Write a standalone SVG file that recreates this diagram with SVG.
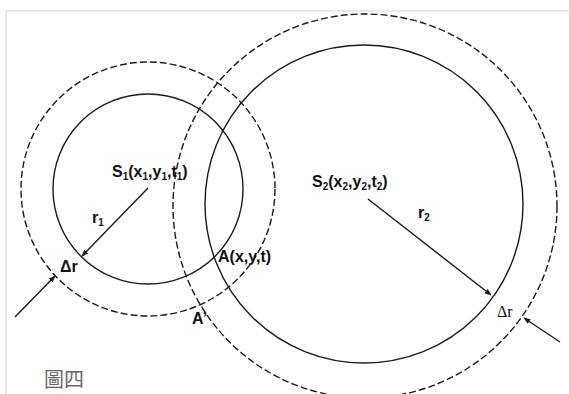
<svg xmlns="http://www.w3.org/2000/svg" width="569" height="394" viewBox="0 0 569 394">
<style>
.bg{fill:#ffffff}
.frame{fill:none;stroke:#e4e4e4;stroke-width:1.5}
.solid{fill:none;stroke:#1a1a1a;stroke-width:1.4}
.dash{fill:none;stroke:#1a1a1a;stroke-width:1.4;stroke-dasharray:7 3}
.ln{fill:none;stroke:#1a1a1a;stroke-width:1.4}
.lbl{font-family:"Liberation Sans",Arial,sans-serif;font-weight:bold;font-size:16px;fill:#111}
.sub{font-size:10px}
.ser{font-family:"Liberation Serif","Times New Roman",serif;font-size:16px;fill:#111}
.cap{font-family:"Noto Sans CJK TC","Noto Sans CJK SC",sans-serif;font-size:20px;fill:#666}
</style>
<defs>
<marker id="arr" viewBox="0 0 10 10" refX="9" refY="5" markerWidth="7" markerHeight="7" markerUnits="userSpaceOnUse" orient="auto">
<path d="M0,1 L10,5 L0,9 z" fill="#1a1a1a"/>
</marker>
</defs>
<rect class="bg" x="0" y="0" width="569" height="394"/>
<path class="frame" d="M6,394 L6,11 L569,11"/>
<g id="circle1">
<circle class="solid" cx="148" cy="189" r="95"/>
<circle class="dash" cx="148" cy="189" r="127"/>
</g>
<g id="circle2">
<circle class="solid" cx="364" cy="204" r="159"/>
<circle class="dash" cx="365" cy="206" r="192"/>
</g>
<g id="connectors">
<line class="ln" x1="148" y1="188" x2="82" y2="256" marker-end="url(#arr)"/>
<line class="ln" x1="15" y1="317" x2="55" y2="276" marker-end="url(#arr)"/>
<line class="ln" x1="368" y1="199" x2="491" y2="295" marker-end="url(#arr)"/>
<line class="ln" x1="560" y1="342" x2="524" y2="318" marker-end="url(#arr)"/>
</g>
<g id="labelS1"><text class="lbl" x="112" y="177">S<tspan class="sub" dy="3">1</tspan><tspan dy="-3">(x</tspan><tspan class="sub" dy="3">1</tspan><tspan dy="-3">,y</tspan><tspan class="sub" dy="3">1</tspan><tspan dy="-3">,t</tspan><tspan class="sub" dy="3">1</tspan><tspan dy="-3">)</tspan></text></g>
<g id="labelS2"><text class="lbl" x="312" y="187">S<tspan class="sub" dy="3">2</tspan><tspan dy="-3">(x</tspan><tspan class="sub" dy="3">2</tspan><tspan dy="-3">,y</tspan><tspan class="sub" dy="3">2</tspan><tspan dy="-3">,t</tspan><tspan class="sub" dy="3">2</tspan><tspan dy="-3">)</tspan></text></g>
<g id="labelR1"><text class="lbl" x="92" y="223">r<tspan class="sub" dy="3">1</tspan></text></g>
<g id="labelR2"><text class="lbl" x="418" y="218">r<tspan class="sub" dy="3">2</tspan></text></g>
<g id="labelA"><text class="lbl" x="218" y="262">A(x,y,t)</text></g>
<g id="labelA2"><text class="lbl" x="192" y="324">A’</text></g>
<g id="labelDr1"><text class="lbl" x="60" y="272">Δr</text></g>
<g id="labelDr2"><text class="ser" x="497" y="317">Δr</text></g>
<g id="caption"><text class="cap" x="44" y="387">圖四</text></g>
</svg>
